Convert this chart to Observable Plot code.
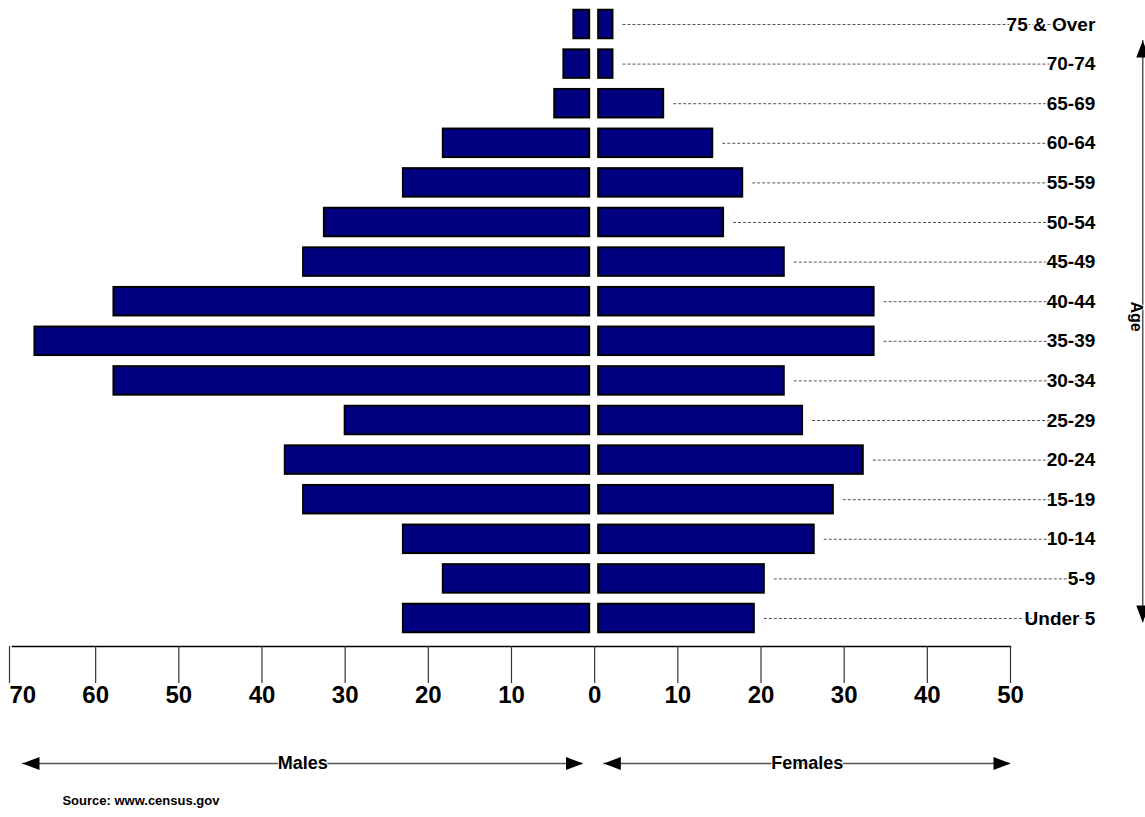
<!DOCTYPE html>
<html>
<head>
<meta charset="utf-8">
<script src="https://cdn.jsdelivr.net/npm/d3@7"></script>
<script src="https://cdn.jsdelivr.net/npm/@observablehq/plot@0.6"></script>
<style>
  html, body { margin: 0; padding: 0; background: #fff; }
  #chart svg { display: block; }
</style>
</head>
<body>
<div id="chart"></div>
<script>
// Age groups, top (oldest) to bottom (youngest)
const ageGroups = ["75 & Over", "70-74", "65-69", "60-64", "55-59", "50-54", "45-49", "40-44",
                   "35-39", "30-34", "25-29", "20-24", "15-19", "10-14", "5-9", "Under 5"];
// Population counts per age group
const males   = [2.5, 3.7, 4.8, 18.2, 23, 32.5, 35, 57.8, 67.3, 57.8, 30, 37.2, 35, 23, 18.2, 23];
const females = [2.2, 2.2, 8.3, 14.2, 17.8, 15.5, 22.8, 33.6, 33.6, 22.8, 25, 32.3, 28.7, 26.4, 20.4, 19.2];
// Axis tick values on each side of zero
const maleTicks   = [70, 60, 50, 40, 30, 20, 10];
const femaleTicks = [0, 10, 20, 30, 40, 50];
// Direction arrows under the axis (in axis units)
const sides = [
  {label: "Males",   from: -68.8, to: -1.4},
  {label: "Females", from: 1.1,   to: 50}
];
const sourceNote = "Source: www.census.gov";

const rows = ageGroups.map((age, i) => ({age, male: males[i], female: females[i]}));

const labelEnd = 60.2;   // right edge of the age labels, in axis units
const ageAxisAt = 65.9;  // position of the vertical "Age" arrow, in axis units
const lastGroup = () => ageGroups[ageGroups.length - 1];

// Filled arrowhead with its tip at the origin, pointing along +x
const arrowhead = {
  draw(ctx) {
    ctx.moveTo(0, 0);
    ctx.lineTo(-17, -6.5);
    ctx.lineTo(-17, 6.5);
    ctx.closePath();
  }
};

const bold = {fontWeight: "bold"};
const tickStyle = {anchor: "bottom", tickSize: 37, tickPadding: 2, tickFormat: d => Math.abs(d),
                   fontSize: 24, ...bold, stroke: "#333", strokeWidth: 1.2, label: null};

const chart = Plot.plot({
  width: 1145,
  height: 817,
  marginLeft: 12,
  marginRight: 135,
  marginTop: 4,
  marginBottom: 171,
  style: {fontFamily: "'Liberation Sans', Arial, sans-serif", color: "#000", background: "#fff"},
  x: {domain: [-70, 50], label: null},
  y: {domain: ageGroups, range: [4.2, 637.8], paddingInner: 0.28, paddingOuter: 0.14, round: false, axis: null},
  marks: [
    // dashed leaders from the female bars to the age labels
    Plot.ruleY(rows, {y: "age", x1: "female", x2: labelEnd, insetLeft: 10,
                      stroke: "#555", strokeWidth: 1, strokeDasharray: "3,2"}),
    // male bars grow left from zero, female bars grow right
    Plot.barX(rows, {y: "age", x1: 0, x2: d => -d.male, insetRight: 5,
                     fill: "#000080", stroke: "#000", strokeWidth: 2}),
    Plot.barX(rows, {y: "age", x1: 0, x2: "female", insetLeft: 4,
                     fill: "#000080", stroke: "#000", strokeWidth: 2}),
    // age labels on the right
    Plot.text(rows, {y: "age", x: labelEnd, text: "age", textAnchor: "end",
                     fontSize: 19, ...bold, fill: "#000", stroke: "#fff", strokeWidth: 3}),
    // horizontal axis line and ticks
    Plot.frame({anchor: "bottom", stroke: "#000", strokeWidth: 1.5}),
    Plot.axisX([...maleTicks.slice(1).map(t => -t), ...femaleTicks], tickStyle),
    Plot.axisX([-maleTicks[0]], {...tickStyle, textAnchor: "start", dx: -3}),
    // Males / Females direction arrows
    Plot.ruleY(sides, {y: lastGroup, x1: "from", x2: "to", dy: 145, stroke: "#555", strokeWidth: 1.5}),
    Plot.dot(sides, {y: lastGroup, x: "from", dy: 145, symbol: arrowhead, rotate: 180, fill: "#000", stroke: null}),
    Plot.dot(sides, {y: lastGroup, x: "to", dy: 145, symbol: arrowhead, rotate: 0, fill: "#000", stroke: null}),
    Plot.text(sides, {y: lastGroup, x: d => (d.from + d.to) / 2, text: "label", dy: 145,
                      fontSize: 18, ...bold, fill: "#000", stroke: "#fff", strokeWidth: 2}),
    // vertical Age arrow on the far right
    Plot.ruleX([ageAxisAt], {insetTop: 36, insetBottom: 24, stroke: "#555", strokeWidth: 1.5}),
    Plot.dot([ageAxisAt], {x: d => d, frameAnchor: "top", dy: 36, symbol: arrowhead, rotate: -90, fill: "#000", stroke: null}),
    Plot.dot([ageAxisAt], {x: d => d, frameAnchor: "bottom", dy: -24, symbol: arrowhead, rotate: 90, fill: "#000", stroke: null}),
    Plot.text(["Age"], {x: () => ageAxisAt, text: d => d, frameAnchor: "middle", dy: -9, dx: -6.5, rotate: 90,
                        fontSize: 16, ...bold, fill: "#000", stroke: "#fff", strokeWidth: 2}),
    // source note
    Plot.text([sourceNote], {x: () => -64.0, text: d => d, frameAnchor: "bottom", dy: 158, textAnchor: "start",
                             fontSize: 13, ...bold, fill: "#000"})
  ]
});

document.getElementById("chart").appendChild(chart);
</script>
</body>
</html>
